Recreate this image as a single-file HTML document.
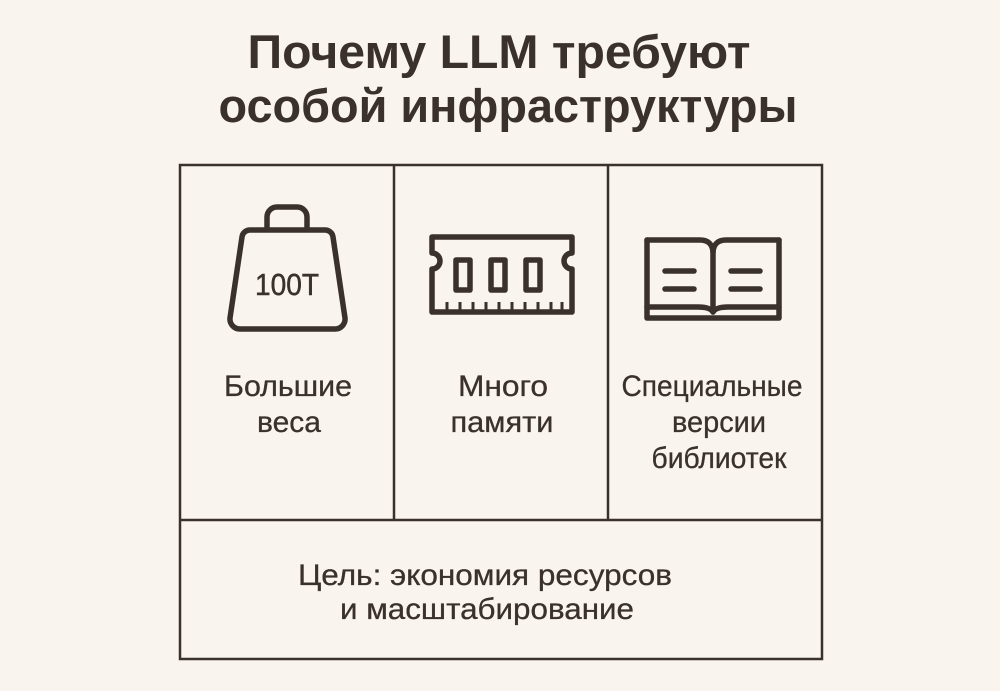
<!DOCTYPE html>
<html><head><meta charset="utf-8"><style>
html,body{margin:0;padding:0;background:#f9f4ed;}
svg{display:block}
text{font-family:"Liberation Sans",sans-serif;fill:#3a302c;}
</style></head><body>
<svg width="1000" height="691" viewBox="0 0 1000 691" xmlns="http://www.w3.org/2000/svg">
<rect width="1000" height="691" fill="#f9f4ed"/>
<text x="499" y="68" font-size="47" font-weight="bold" text-anchor="middle" textLength="503" lengthAdjust="spacingAndGlyphs">Почему LLM требуют</text>
<text x="508" y="122" font-size="47" font-weight="bold" text-anchor="middle" textLength="579" lengthAdjust="spacingAndGlyphs">особой инфраструктуры</text>
<g fill="none" stroke="#3a302c" stroke-width="2.5">
<rect x="180" y="165" width="642" height="494"/>
<line x1="180" y1="520" x2="822" y2="520"/>
<line x1="394" y1="165" x2="394" y2="520"/>
<line x1="608" y1="165" x2="608" y2="520"/>
</g>
<g fill="none" stroke="#3a302c" stroke-width="5.5" stroke-linejoin="round">
<path d="M267 230 V217 a10 10 0 0 1 10 -10 h20 a10 10 0 0 1 10 10 V230"/>
<path d="M250 230 H325 a8 8 0 0 1 8 7 L345 318 a10 10 0 0 1 -10 11 H240 a10 10 0 0 1 -10 -11 L242 237 a8 8 0 0 1 8 -7 Z"/>
</g>
<text x="287" y="295" font-size="31" text-anchor="middle" textLength="64" lengthAdjust="spacingAndGlyphs" stroke="#3a302c" stroke-width="0.5">100T</text>
<g fill="none" stroke="#3a302c" stroke-width="5.5" stroke-linejoin="round">
<path d="M432 253 V237 H572 V253 a8 8 0 0 0 0 16 V312 H432 V269 a8 8 0 0 0 0 -16 Z"/>
<rect x="456" y="260" width="14" height="30"/>
<rect x="491" y="260" width="14" height="30"/>
<rect x="526" y="260" width="14" height="30"/>
</g>
<g stroke="#3a302c" stroke-width="3">
<line x1="447" y1="302" x2="447" y2="310"/><line x1="460" y1="302" x2="460" y2="310"/><line x1="473" y1="302" x2="473" y2="310"/><line x1="486" y1="302" x2="486" y2="310"/><line x1="499" y1="302" x2="499" y2="310"/><line x1="512" y1="302" x2="512" y2="310"/><line x1="525" y1="302" x2="525" y2="310"/><line x1="538" y1="302" x2="538" y2="310"/><line x1="551" y1="302" x2="551" y2="310"/><line x1="562" y1="302" x2="562" y2="310"/>
</g>
<g fill="none" stroke="#3a302c" stroke-width="5.5" stroke-linejoin="round" stroke-linecap="round">
<path d="M647 240 V318 H779 V240"/>
<path d="M647 240 H700 Q712 240 713 252 Q714 240 726 240 H779"/>
<line x1="713" y1="252" x2="713" y2="312"/>
<path d="M647 307 H698 Q710 307 713 312 Q716 307 728 307 H779"/>
<line x1="665" y1="271" x2="694" y2="271"/><line x1="665" y1="289" x2="694" y2="289"/>
<line x1="731" y1="271" x2="760" y2="271"/><line x1="731" y1="289" x2="760" y2="289"/>
</g>
<g font-size="30" text-anchor="middle" stroke="#3a302c" stroke-width="0.3">
<text x="288" y="396" textLength="128" lengthAdjust="spacingAndGlyphs">Большие</text>
<text x="289" y="432" textLength="64" lengthAdjust="spacingAndGlyphs">веса</text>
<text x="503" y="396" textLength="90" lengthAdjust="spacingAndGlyphs">Много</text>
<text x="502" y="432" textLength="103" lengthAdjust="spacingAndGlyphs">памяти</text>
<text x="712" y="396" textLength="181" lengthAdjust="spacingAndGlyphs">Специальные</text>
<text x="719" y="432" textLength="94" lengthAdjust="spacingAndGlyphs">версии</text>
<text x="719" y="468" textLength="135" lengthAdjust="spacingAndGlyphs">библиотек</text>
<text x="485" y="585" textLength="374" lengthAdjust="spacingAndGlyphs">Цель: экономия ресурсов</text>
<text x="487" y="619" textLength="294" lengthAdjust="spacingAndGlyphs">и масштабирование</text>
</g>
</svg>
</body></html>
